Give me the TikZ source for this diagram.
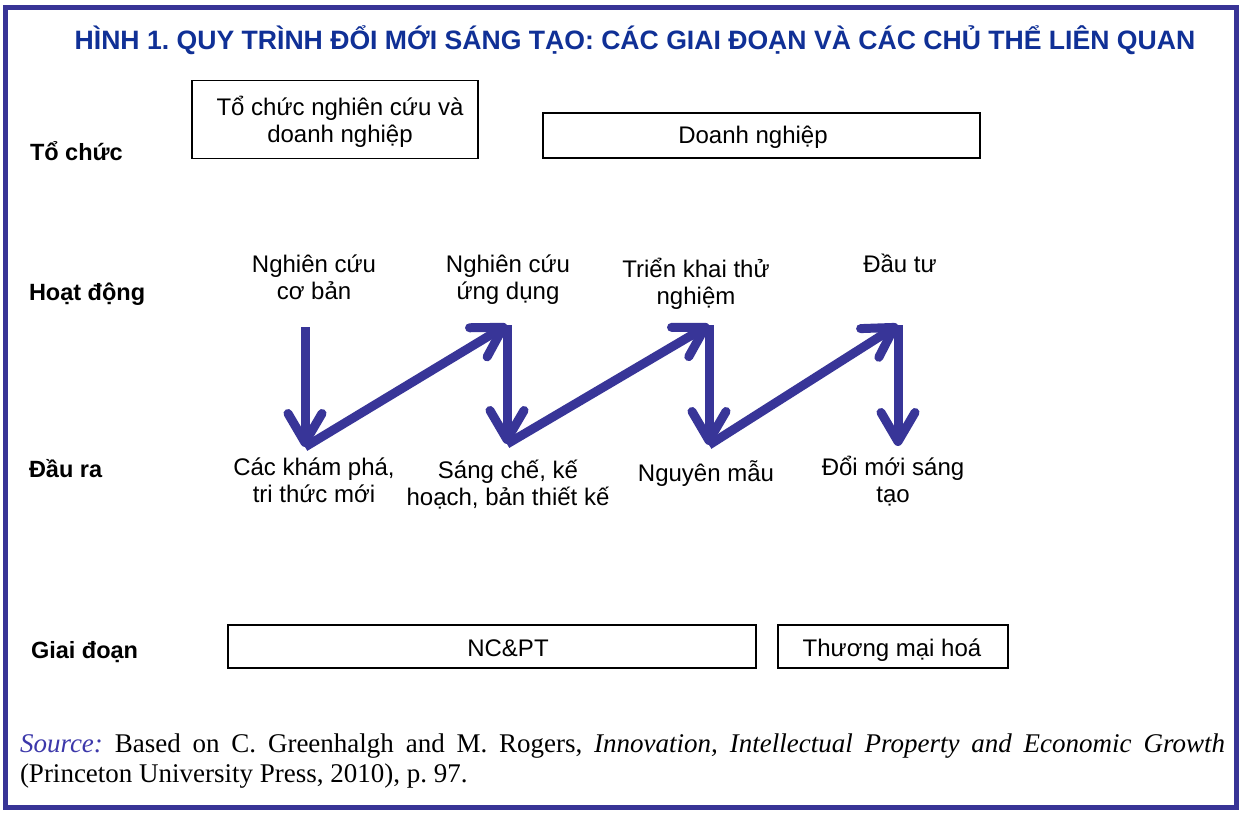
\documentclass[tikz,border=0pt]{standalone}
\usepackage{fontspec}
\setmainfont{Liberation Sans}
\newfontfamily\timesf{Liberation Serif}
\usetikzlibrary{arrows.meta}
\definecolor{framecol}{RGB}{56,52,150}
\definecolor{titlecol}{RGB}{16,48,150}
\definecolor{arrowcol}{RGB}{56,53,152}
\definecolor{srccol}{RGB}{60,56,170}
\frenchspacing
\begin{document}
\begin{tikzpicture}[x=1pt,y=-1pt,
  every node/.style={inner sep=0pt, outer sep=0pt},
  txt/.style={font=\fontsize{24}{27}\selectfont, align=center, anchor=base},
  rowlbl/.style={font=\fontsize{23.5}{27}\selectfont\bfseries, anchor=base west},
  boxed/.style={draw=black, line width=1.2pt, rectangle},
  flow/.style={draw=arrowcol, line width=9pt, -{Straight Barb[length=29pt,width=34pt,round]}},
  srctxt/.style={font=\timesf\fontsize{27}{30}\selectfont, anchor=base west},
]
\useasboundingbox (0,0) rectangle (1242,813);
\fill[white] (0,0) rectangle (1242,813);
\draw[framecol, line width=5pt] (5.5,7.3) rectangle (1236,807.5);

\node[font=\fontsize{26.6}{30}\selectfont\bfseries, text=titlecol, anchor=base] (title) at (635,50)
  {HÌNH 1. QUY TRÌNH ĐỔI MỚI SÁNG TẠO: CÁC GIAI ĐOẠN VÀ CÁC CHỦ THỂ LIÊN QUAN};

% row labels
\node[rowlbl] (r1) at (30,161) {Tổ chức};
\node[rowlbl] (r2) at (29,300) {Hoạt động};
\node[rowlbl] (r3) at (29,477) {Đầu ra};
\node[rowlbl] (r4) at (31,658) {Giai đoạn};

% organisation boxes (multi-line nodes: base = last line's baseline)
\node[boxed, minimum width=286pt, minimum height=78pt] (b1) at (335,119.5) {};
\node[txt] (b1t) at (340,142.5) {Tổ chức nghiên cứu và\\doanh nghiệp};
\node[boxed, minimum width=437pt, minimum height=45pt] (b2) at (761.5,135.5) {};
\node[txt] (b2t) at (753,144) {Doanh nghiệp};

% activities
\node[txt] (act1) at (314,299) {Nghiên cứu\\cơ bản};
\node[txt] (act2) at (508,299) {Nghiên cứu\\ứng dụng};
\node[txt] (act3) at (696,304) {Triển khai thử\\nghiệm};
\node[txt] (act4) at (900,272) {Đầu tư};

% outputs
\node[txt] (out1) at (314,502) {Các khám phá,\\tri thức mới};
\node[txt] (out2) at (508,505) {Sáng chế, kế\\hoạch, bản thiết kế};
\node[txt] (out3) at (706,481) {Nguyên mẫu};
\node[txt] (out4) at (893,502) {Đổi mới sáng\\tạo};

% stage boxes
\node[boxed, minimum width=528pt, minimum height=43pt] (s1) at (492,646.5) {};
\node[txt] (s1t) at (508,656) {NC\&PT};
\node[boxed, minimum width=230pt, minimum height=43pt] (s2) at (893,646.5) {};
\node[txt] (s2t) at (892,656) {Thương mại hoá};

% zig-zag arrows
\coordinate (a1) at (305,327);
\coordinate (o1) at (305,447);
\coordinate (a2) at (507,325);
\coordinate (o2) at (507,444);
\coordinate (a3) at (709,325);
\coordinate (o3) at (709,445);
\coordinate (a4) at (898,325);
\coordinate (o4) at (898,446);
\draw[flow] (a1) -- (o1);
\draw[flow] (o1) -- (a2);
\draw[flow] (a2) -- (o2);
\draw[flow] (o2) -- (a3);
\draw[flow] (a3) -- (o3);
\draw[flow] (o3) -- (a4);
\draw[flow] (a4) -- (o4);

% source
\node[srctxt] (src1) at (20,752) {\makebox[1205pt][s]{\textcolor{srccol}{\textit{Source:}} Based on C. Greenhalgh and M. Rogers, \textit{Innovation, Intellectual Property and Economic Growth}}};
\node[srctxt] (src2) at (20,782) {(Princeton University Press, 2010), p. 97.};
\end{tikzpicture}
\end{document}
